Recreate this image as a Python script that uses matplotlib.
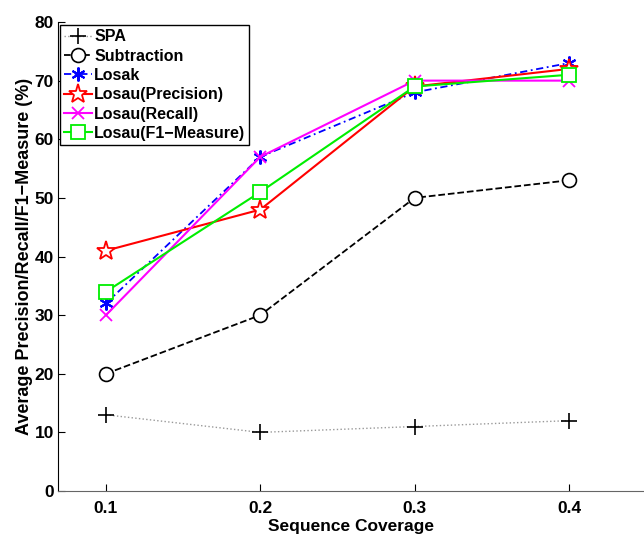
import numpy as np
import matplotlib
matplotlib.use('Agg')
import matplotlib.pyplot as plt

plt.rcParams['font.family'] = ['Liberation Sans', 'DejaVu Sans']
plt.rcParams['font.weight'] = 'bold'

coverage = [0.1, 0.2, 0.3, 0.4]
spa = [13, 10, 11, 12]
subtraction = [20, 30, 50, 53]
losak = [32, 57, 68, 73]
losau_precision = [41, 48, 69, 72]
losau_recall = [30, 57, 70, 70]
losau_f1 = [34, 51, 69, 71]

fig = plt.figure(figsize=(6.44, 5.34), dpi=100)
ax = fig.add_axes([0.090, 0.0805, 0.91, 0.8783])

ax.plot(coverage, spa, color='#999999', linestyle=':', linewidth=1.0,
        marker='+', markersize=11, markeredgecolor='k', markeredgewidth=1.2, label='SPA')
ax.plot(coverage, subtraction, color='k', linestyle='--', linewidth=1.3,
        marker='o', markersize=10, markerfacecolor='white', markeredgewidth=1.2, label='Subtraction')
ax.plot(coverage, losak, color='b', linestyle=(0, (4, 2, 1, 2)), linewidth=1.3,
        marker=(6, 2, 0), markersize=10, markeredgewidth=1.5, label='Losak')
ax.plot(coverage, losau_precision, color='r', linestyle='-', linewidth=1.5,
        marker='*', markersize=14, markerfacecolor='white', markeredgewidth=1.3, label='Losau(Precision)')
ax.plot(coverage, losau_recall, color='#ff00ff', linestyle='-', linewidth=1.5,
        marker='x', markersize=8, markeredgewidth=1.3, label='Losau(Recall)')
ax.plot(coverage, losau_f1, color='#00ee00', linestyle='-', linewidth=1.5,
        marker='s', markersize=10, markerfacecolor='white', markeredgewidth=1.3, label='Losau(F1\u2212Measure)')

ax.set_xlim(0.0689, 0.4486)
ax.set_ylim(0, 80)
ax.set_xticks(coverage)
ax.set_xticklabels(['0.1', '0.2', '0.3', '0.4'])
ax.set_yticks(np.arange(0, 81, 10))
ax.tick_params(direction='in', length=5, labelsize=12.5)
ax.tick_params(axis='y', pad=3)
ax.tick_params(axis='x', pad=7)
for lbl in ax.get_xticklabels() + ax.get_yticklabels():
    lbl.set_fontweight('bold')
ax.spines['top'].set_visible(False)
ax.spines['right'].set_visible(False)
ax.spines['bottom'].set_color('#666666')
ax.spines['left'].set_color('k')

ax.set_xlabel('Sequence Coverage', fontsize=12.5, fontweight='bold', labelpad=2)
ax.set_ylabel('Average Precision/Recall/F1\u2212Measure (%)', fontsize=13, fontweight='bold', labelpad=1)

leg = ax.legend(loc='upper left', bbox_to_anchor=(0.003, 0.993), fontsize=11.5,
                handlelength=1.75, handletextpad=0.15, borderpad=0.25, labelspacing=0.27,
                fancybox=False, framealpha=1, edgecolor='k', borderaxespad=0)
leg.get_frame().set_linewidth(1.0)
for t in leg.get_texts():
    t.set_fontweight('bold')

fig.savefig('out.png', dpi=100)
